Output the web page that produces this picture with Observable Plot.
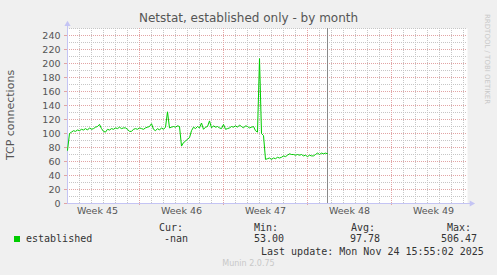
<!DOCTYPE html>
<html><head><meta charset="utf-8">
<script src="https://cdn.jsdelivr.net/npm/d3@7"></script>
<script src="https://cdn.jsdelivr.net/npm/@observablehq/plot@0.6"></script>
<style>
html,body{margin:0;padding:0;background:#f0f0f0;}
#wrap{position:relative;width:497px;height:275px;background:#f0f0f0;overflow:hidden;font-family:"DejaVu Sans",sans-serif;}
#chart{position:absolute;left:0;top:0;}
.t{position:absolute;white-space:pre;line-height:1;}
.mono{font-family:"DejaVu Sans Mono",monospace;font-size:10px;color:#333;}
</style></head><body>
<div id="wrap"><div id="chart"></div></div>
<script>
const title = "Netstat, established only - by month";
const yLabel = "TCP connections";
const sideText = "RRDTOOL / TOBI OETIKER";
const footer = "Munin 2.0.75";
const startTime = "2025-11-03T00:00:00Z";
const endTime = "2025-12-06T08:00:00Z";
const nowTime = "2025-11-24T16:00:00Z";
const stepHours = 4;
const established = [
  76,100,102,104,103,105,104,106,105,107,105,108,106,107,109,110,113,107,103,102,
  106,105,107,106,108,107,109,107,108,108,106,103,103,106,107,106,108,107,106,108,
  109,110,114,106,104,107,105,108,106,109,131,108,109,110,109,111,110,82,87,89,
  92,94,104,109,107,110,108,115,106,109,110,118,108,111,109,110,108,107,113,106,
  107,108,110,109,111,109,112,110,108,111,110,108,109,110,104,102,207,100,97,63,
  64,65,63,65,64,66,65,66,68,67,69,71,70,70,69,70,69,70,68,69,
  67,69,68,68,70,72,70,72,71,72,71
];
const yTicks = [0,20,40,60,80,100,120,140,160,180,200,220,240];
const weekLabels = ["Week 45","Week 46","Week 47","Week 48","Week 49"];
const weekStarts = ["2025-11-02","2025-11-09","2025-11-16","2025-11-23","2025-11-30"];
const seriesName = "established";
const legendHeads = ["Cur:","Min:","Avg:","Max:"];
const legendVals = ["-nan","53.00","97.78","506.47"];
const lastUpdate = "Last update: Mon Nov 24 15:55:02 2025";

const t0 = new Date(startTime), t1 = new Date(endTime);
const data = established.map((v, i) => ({t: new Date(+t0 + i * stepHours * 3600e3), v}));
const days = d3.utcDay.range(t0, t1).filter(d => +d > +t0);
const weeks = weekStarts.map(s => new Date(s + "T00:00:00Z"));
const majors = weeks.filter(d => d > t0 && d < t1);
const labelPos = weeks.map(d => d3.utcHour.offset(d, 84));
const minorY = d3.range(10, 251, 10).filter(v => v % 20 !== 0);
const majorY = yTicks.filter(v => v > 0);
const axisCol = "#c4c4f4";
const minorCol = "#c6c6c6";
const majorCol = "#e2a4a4";

const chart = Plot.plot({
  width: 497, height: 220,
  marginLeft: 67, marginRight: 30, marginTop: 28, marginBottom: 17,
  style: {fontFamily: "DejaVu Sans", fontSize: "9.5px", color: "#555", background: "transparent", overflow: "visible"},
  x: {type: "utc", domain: [t0, t1]},
  y: {domain: [0, 250]},
  marks: [
    Plot.frame({fill: "white", stroke: "none"}),
    Plot.ruleX(days, {stroke: minorCol, strokeDasharray: "1,1"}),
    Plot.ruleY(minorY, {stroke: minorCol, strokeDasharray: "1,1"}),
    Plot.ruleY(majorY, {stroke: majorCol, strokeDasharray: "1,1"}),
    Plot.ruleX(majors, {stroke: majorCol, strokeDasharray: "1,1"}),
    Plot.ruleX([new Date(nowTime)], {stroke: "#8a8a8a", strokeWidth: 1}),
    Plot.axisY({ticks: yTicks, tickSize: 3, tickPadding: 4, stroke: majorCol, label: null}),
    Plot.axisX({ticks: majors, tickSize: 2, tickFormat: () => "", stroke: majorCol, label: null}),
    Plot.axisX({ticks: labelPos, tickSize: 0, tickPadding: 4, tickFormat: (d, i) => weekLabels[i], label: null}),
    Plot.ruleX([t0], {y1: 0, y2: 257, stroke: axisCol}),
    Plot.ruleY([0], {x1: t0, x2: d3.utcHour.offset(t1, 6), stroke: axisCol}),
    Plot.dot([{x: t0, y: 256}], {x: "x", y: "y", symbol: "triangle", r: 2.3, fill: axisCol, stroke: "none"}),
    Plot.dot([{x: d3.utcHour.offset(t1, 8), y: 0}], {x: "x", y: "y", symbol: "triangle", r: 2.3, rotate: 90, fill: axisCol, stroke: "none"}),
    Plot.line(data, {x: "t", y: "v", stroke: "#00cc00", strokeWidth: 1})
  ]
});
document.getElementById("chart").append(chart);

const wrap = document.getElementById("wrap");
function addText(txt, cls, css) {
  const d = document.createElement("div");
  d.className = "t " + cls;
  d.textContent = txt;
  Object.assign(d.style, css);
  wrap.append(d);
  return d;
}
addText(title, "", {left: "0", width: "497px", textAlign: "center", top: "12px", fontSize: "12px", color: "#555"});
addText(yLabel, "", {left: "10px", top: "115px", fontSize: "11px", color: "#555", transform: "translate(-50%,-50%) rotate(-90deg)"});
addText(sideText, "", {left: "486px", top: "14px", fontSize: "7px", color: "#c8c8c8", transformOrigin: "0 0", transform: "translate(4px,0) rotate(90deg)"});
const sq = document.createElement("div");
Object.assign(sq.style, {position: "absolute", left: "14px", top: "236px", width: "6px", height: "6px", background: "#00cc00"});
wrap.append(sq);
addText(seriesName, "mono", {left: "26px", top: "234px"});
const headX = [159, 254, 351, 447];
const valRight = [188, 284, 380, 477];
legendHeads.forEach((h, i) => addText(h, "mono", {left: headX[i] + "px", top: "223px"}));
legendVals.forEach((v, i) => addText(v, "mono", {left: (valRight[i] - 6 * v.length) + "px", top: "234px"}));
addText(lastUpdate, "mono", {left: "261px", top: "247px"});
addText(footer, "", {left: "0", width: "497px", textAlign: "center", top: "260px", fontSize: "8px", color: "#c8c8c8"});
</script>
</body></html>
